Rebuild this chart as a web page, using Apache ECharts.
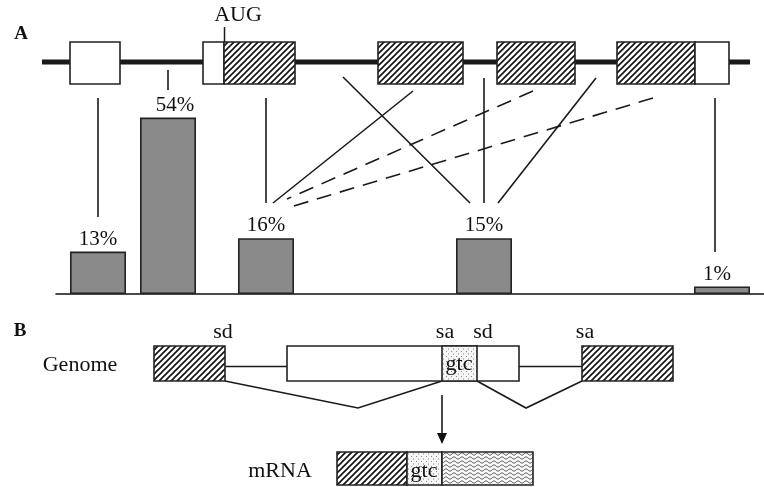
<!DOCTYPE html>
<html>
<head>
<meta charset="utf-8">
<script src="https://cdn.jsdelivr.net/npm/echarts@6/dist/echarts.min.js"></script>
<style>
html,body{margin:0;padding:0;background:#fff;}
#chart{width:764px;height:487px;}
</style>
</head>
<body>
<div id="chart"></div>
<script>
// ---- data ----
const exonPositions = [98, 168, 266, 484, 722];           // position along the gene map
const barHeights    = [13, 54, 17.1, 17.1, 2.3];          // bar heights as drawn
const barLabels     = ['13%', '54%', '16%', '15%', '1%'];  // printed percentages
const labelNudge    = [0, 7, 0, 0, -5];

const SERIF = '"Liberation Serif", "DejaVu Serif", serif';
const INK = '#1a1a1a';

function makeHatch() {
  const c = document.createElement('canvas');
  const s = 6;
  c.width = s; c.height = s;
  const g = c.getContext('2d');
  g.fillStyle = '#fff'; g.fillRect(0, 0, s, s);
  g.strokeStyle = '#111'; g.lineWidth = 1.6;
  g.beginPath();
  g.moveTo(-1, s + 1); g.lineTo(s + 1, -1);
  g.moveTo(-1, 1); g.lineTo(1, -1);
  g.moveTo(s - 1, s + 1); g.lineTo(s + 1, s - 1);
  g.stroke();
  return c;
}
function makeDots() {
  const c = document.createElement('canvas');
  c.width = 5; c.height = 5;
  const g = c.getContext('2d');
  g.fillStyle = '#f5f5f5'; g.fillRect(0, 0, 5, 5);
  g.fillStyle = '#8a8a8a';
  g.fillRect(1, 1, 1, 1);
  g.fillRect(3, 3.5, 1, 1);
  return c;
}
function makeWave() {
  const c = document.createElement('canvas');
  c.width = 8; c.height = 4;
  const g = c.getContext('2d');
  g.fillStyle = '#f8f8f8'; g.fillRect(0, 0, 8, 4);
  g.strokeStyle = '#3a3a3a'; g.lineWidth = 0.9;
  g.beginPath();
  for (let x = 0; x <= 8; x += 0.5) {
    const y = 2 + Math.sin(x / 8 * Math.PI * 2) * 1.1;
    if (x === 0) g.moveTo(x, y); else g.lineTo(x, y);
  }
  g.stroke();
  return c;
}
const hatch = { image: makeHatch(), repeat: 'repeat' };
const dots = { image: makeDots(), repeat: 'repeat' };
const wave = { image: makeWave(), repeat: 'repeat' };

function rect(x, y, w, h, fill) {
  return { type: 'rect', shape: { x, y, width: w, height: h },
    style: { fill: fill, stroke: '#222', lineWidth: 1.6 }, z: 10 };
}
function line(x1, y1, x2, y2, lw, dash) {
  const st = { stroke: INK, lineWidth: lw || 1.6 };
  if (dash) st.lineDash = dash;
  return { type: 'line', shape: { x1, y1, x2, y2 }, style: st, z: 5 };
}
function poly(points) {
  return { type: 'polyline', shape: { points }, style: { stroke: INK, lineWidth: 1.6, fill: null }, z: 5 };
}
function text(t, x, y, size, bold) {
  return { type: 'text', x, y, z: 20,
    style: { text: t, fill: '#111', font: (bold ? 'bold ' : '') + size + 'px ' + SERIF,
      align: 'center', verticalAlign: 'middle' } };
}

const graphics = [
  // Panel A
  text('A', 21, 34, 19, true),
  line(42, 62, 750, 62, 5),
  rect(70, 42, 50, 42, '#fff'),
  rect(203, 42, 21, 42, '#fff'),
  rect(224, 42, 71, 42, hatch),
  rect(378, 42, 85, 42, hatch),
  rect(497, 42, 78, 42, hatch),
  rect(617, 42, 78, 42, hatch),
  rect(695, 42, 34, 42, '#fff'),
  line(224.5, 27, 224.5, 42, 1.5),
  text('AUG', 238, 15, 22),
  line(168, 70, 168, 90, 1.6),
  line(98, 98, 98, 217),
  line(266, 98, 266, 203),
  line(715, 98, 715, 252),
  line(484, 78, 484, 203),
  line(343, 77, 470, 203),
  line(413, 91, 273, 203),
  line(596, 78, 498, 203),
  line(533, 91, 287, 199, 1.6, [15, 9]),
  line(653, 98, 287, 208, 1.6, [15, 9]),
  // Panel B
  text('B', 20, 331, 19, true),
  text('Genome', 80, 365, 22),
  rect(154, 346, 71, 35, hatch),
  line(225, 366.5, 287, 366.5),
  rect(287, 346, 232, 35, '#fff'),
  rect(442, 346, 35, 35, dots),
  text('gtc', 459, 364, 22),
  line(519, 366.5, 582, 366.5),
  rect(582, 346, 91, 35, hatch),
  text('sd', 223, 332, 22),
  text('sa', 445, 332, 22),
  text('sd', 483, 332, 22),
  text('sa', 585, 332, 22),
  poly([[225, 381], [358, 408], [442, 381]]),
  poly([[477, 381], [526, 408], [582, 381]]),
  line(442, 395, 442, 434),
  { type: 'polygon', shape: { points: [[437, 433], [447, 433], [442, 444]] }, style: { fill: '#111' }, z: 6 },
  rect(337, 452, 70, 33, hatch),
  rect(407, 452, 35, 33, dots),
  rect(442, 452, 91, 33, wave),
  text('gtc', 424, 471, 22),
  text('mRNA', 280, 471, 22)
];

const chart = echarts.init(document.getElementById('chart'));
chart.setOption({
  animation: false,
  backgroundColor: '#fff',
  grid: { left: 56, right: 0, top: 98, bottom: 193 },
  xAxis: {
    type: 'value', min: 56, max: 764,
    axisLine: { show: true, onZero: true, lineStyle: { color: '#111', width: 1.6 } },
    axisTick: { show: false }, axisLabel: { show: false }, splitLine: { show: false }
  },
  yAxis: {
    type: 'value', min: 0, max: 60, show: false,
    splitLine: { show: false }
  },
  series: [{
    type: 'bar',
    barWidth: 56,
    itemStyle: { color: '#8a8a8a', borderColor: '#222', borderWidth: 1.6 },
    label: {
      show: true, position: 'top', distance: 2,
      fontFamily: '"Liberation Serif", "DejaVu Serif", serif', fontSize: 21, color: '#111',
      formatter: p => barLabels[p.dataIndex]
    },
    data: exonPositions.map((x, i) => ({
      value: [x, barHeights[i]],
      label: { offset: [labelNudge[i], 0] }
    }))
  }],
  graphic: { elements: graphics }
});
</script>
</body>
</html>
